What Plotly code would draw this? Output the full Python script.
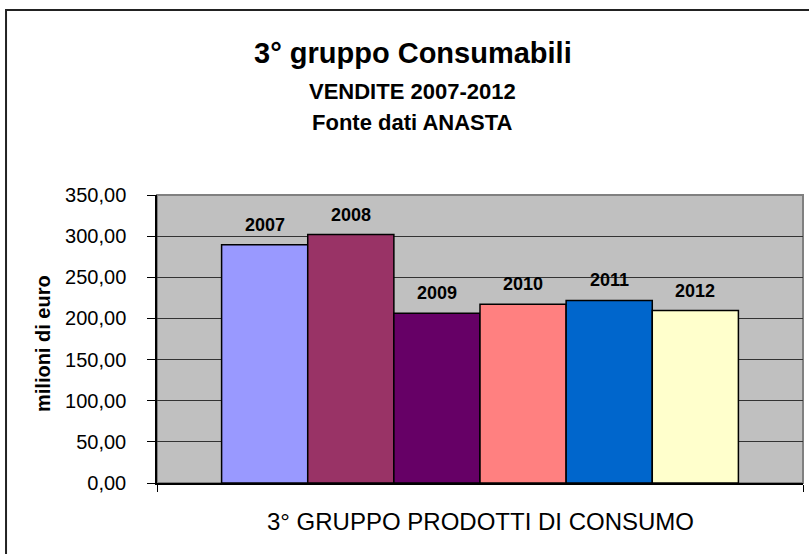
import plotly.graph_objects as go

# ---- data ----
years = ["2007", "2008", "2009", "2010", "2011", "2012"]
values = [289.5, 302.0, 206.4, 217.3, 221.8, 209.6]
colors = ["#9999FF", "#993366", "#660066", "#FF8080", "#0066CC", "#FFFFCC"]
category = ["3° GRUPPO PRODOTTI DI CONSUMO"]
y_ticks = [0, 50, 100, 150, 200, 250, 300, 350]

title_main = "3° gruppo Consumabili"
title_sub1 = "VENDITE 2007-2012"
title_sub2 = "Fonte dati ANASTA"
y_title = "milioni di euro"

FONT = "Liberation Sans, Arial, sans-serif"
BARGAP = 0.2

fig = go.Figure()
for yr, v, c in zip(years, values, colors):
    fig.add_trace(go.Bar(
        x=[0], y=[v], name=yr,
        marker=dict(color=c, line=dict(color="#000000", width=1.5)),
        hoverinfo="name+y",
    ))

# labels above bars, centred on each bar of the group
n = len(years)
slot = (1 - BARGAP) / n
annotations = []
for i, (yr, v) in enumerate(zip(years, values)):
    annotations.append(dict(
        x=(i - (n - 1) / 2) * slot, y=v, xref="x", yref="y",
        text=yr, showarrow=False, yshift=20, yanchor="middle",
        font=dict(family=FONT, size=18, color="#000000", weight="bold"),
    ))

annotations += [
    dict(text=title_main, x=0.396, y=1.493, xref="paper", yref="paper",
         showarrow=False, xanchor="center", yanchor="middle",
         font=dict(family=FONT, size=29, color="#000", weight="bold")),
    dict(text=title_sub1, x=0.396, y=1.358, xref="paper", yref="paper",
         showarrow=False, xanchor="center", yanchor="middle",
         font=dict(family=FONT, size=22, color="#000", weight="bold")),
    dict(text=title_sub2, x=0.396, y=1.253, xref="paper", yref="paper",
         showarrow=False, xanchor="center", yanchor="middle",
         font=dict(family=FONT, size=22, color="#000", weight="bold")),
    dict(text=y_title, x=-0.1765, y=0.486, xref="paper", yref="paper",
         showarrow=False, xanchor="center", yanchor="middle", textangle=-90,
         font=dict(family=FONT, size=20, color="#000", weight="bold")),
    dict(text=category[0], x=0.5, y=-0.135, xref="paper", yref="paper",
         showarrow=False, xanchor="center", yanchor="middle",
         font=dict(family=FONT, size=24, color="#000")),
]

shapes = [
    # plot-area frame (grey top/right)
    dict(type="rect", xref="paper", yref="paper", x0=0, x1=1, y0=0, y1=1,
         line=dict(color="#808080", width=2), layer="below"),
    # outer chart border
    dict(type="rect", xref="paper", yref="paper", x0=-0.2337, x1=1.5, y0=-1, y1=1.642,
         line=dict(color="#222222", width=2), fillcolor="rgba(0,0,0,0)", layer="above"),
]

fig.update_layout(
    width=809, height=554,
    margin=dict(l=157, r=6, t=195, b=71),
    paper_bgcolor="#FFFFFF",
    plot_bgcolor="#C0C0C0",
    barmode="group", bargap=BARGAP, bargroupgap=0,
    showlegend=False,
    separators=",.",
    font=dict(family=FONT, color="#000"),
    annotations=annotations,
    shapes=shapes,
    xaxis=dict(
        range=[-0.5, 0.5], showticklabels=False, showgrid=False, zeroline=False,
        showline=True, linecolor="#000", linewidth=1.5,
        ticks="outside", tickvals=[-0.5, 0.5], ticklen=7, tickcolor="#000", tickwidth=1,
    ),
    yaxis=dict(
        range=[0, 350], tickvals=y_ticks, tickformat=".2f",
        showgrid=True, gridcolor="#333333", gridwidth=1, zeroline=False,
        showline=True, linecolor="#000", linewidth=1.5,
        ticks="outside", ticklen=8, tickcolor="#000", tickwidth=1,
        ticklabelstandoff=17,
        tickfont=dict(family=FONT, size=20, color="#000"),
    ),
)

fig.write_html(
    "out.html",
    config={"displayModeBar": False},
    post_script="document.body.style.margin='0';document.body.style.overflow='hidden';",
)
